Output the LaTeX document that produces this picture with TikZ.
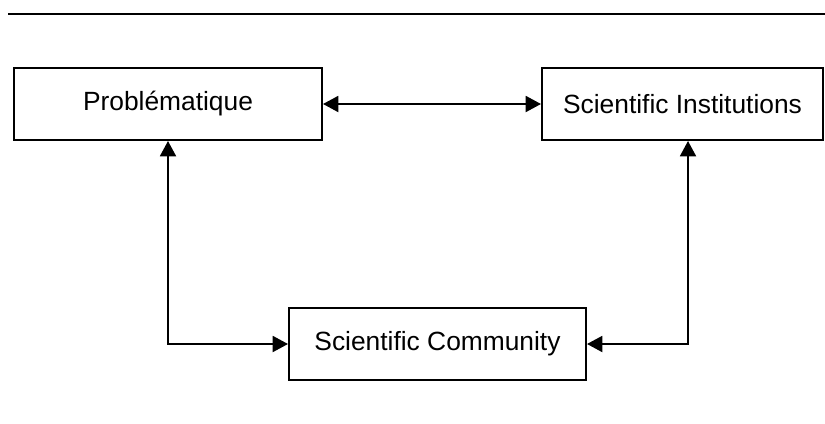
\documentclass[tikz,border=0pt]{standalone}
\usepackage{fontspec}
\setmainfont{Liberation Sans}
\usetikzlibrary{positioning,arrows.meta}

\begin{document}
\begin{tikzpicture}[x=0.03cm,y=-0.03cm,
    block/.style={draw,line width=1.7pt,minimum height=2.16cm,font=\fontsize{22.5}{26}\selectfont,inner sep=0pt},
    link/.style={line width=1.6pt,{Triangle[length=0.46cm,width=0.48cm]}-{Triangle[length=0.46cm,width=0.48cm]}}]
    \useasboundingbox (0,0) rectangle (825,423);
    \draw[line width=1.7pt] (8,14) -- (825,14);
    \node[block,minimum width=9.24cm] (prob) at (168,104) {Probl\'ematique};
    \node[block,minimum width=8.43cm] (inst) at (682.5,104) {Scientific Institutions};
    \node[block,minimum width=8.91cm] (comm) at (437.5,344) {Scientific Community};
    \draw[link] (prob.east) -- (inst.west);
    \draw[link] (prob.south) |- (comm.west);
    \draw[link] ([xshift=0.165cm]inst.south) |- (comm.east);
  \end{tikzpicture}
\end{document}
